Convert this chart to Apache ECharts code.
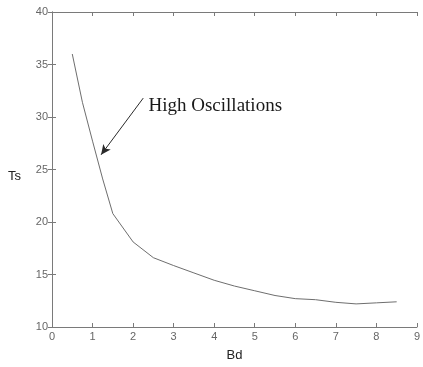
<!DOCTYPE html>
<html>
<head>
<meta charset="utf-8">
<script src="https://cdn.jsdelivr.net/npm/echarts@6/dist/echarts.min.js"></script>
<style>
  html, body { margin: 0; padding: 0; background: #fff; }
  #chart { width: 423px; height: 367px; }
</style>
</head>
<body>
<div id="chart"></div>
<script>
// Settling time versus damping parameter
const bd = [0.5, 0.75, 1.0, 1.25, 1.5, 2.0, 2.5, 3.0, 3.5, 4.0, 4.5, 5.0, 5.5, 6.0, 6.5, 7.0, 7.5, 8.0, 8.5];
const ts = [36.0, 31.4, 27.7, 24.1, 20.8, 18.1, 16.6, 15.85, 15.15, 14.45, 13.9, 13.45, 13.0, 12.7, 12.6, 12.35, 12.2, 12.3, 12.4];

// Annotation: arrow from label towards the steep part of the curve
const arrowFrom = [2.25, 31.8];
const arrowTo = [1.21, 26.4];
const noteAt = [2.38, 31.0];
const noteText = 'High Oscillations';

const axisGray = '#7a7a7a';
const labelGray = '#666666';

const chart = echarts.init(document.getElementById('chart'), null, { renderer: 'canvas' });

const tickCommon = {
  axisLine: { show: true, lineStyle: { color: axisGray, width: 1 } },
  axisTick: { show: true, inside: true, length: 4, lineStyle: { color: axisGray } },
  splitLine: { show: false }
};

chart.setOption({
  animation: false,
  backgroundColor: '#ffffff',
  grid: { left: 52, right: 2, top: 12, bottom: 30, containLabel: false },
  xAxis: [
    Object.assign({
      type: 'value', min: 0, max: 9, interval: 1, position: 'bottom',
      name: 'Bd', nameLocation: 'middle', nameGap: 22,
      nameTextStyle: { fontFamily: 'Liberation Sans', fontSize: 13, color: '#222' },
      axisLabel: { fontFamily: 'Liberation Sans', fontSize: 11, color: labelGray, margin: 4 }
    }, tickCommon),
    Object.assign({
      type: 'value', min: 0, max: 9, interval: 1, position: 'top',
      axisLabel: { show: false }
    }, tickCommon)
  ],
  yAxis: [
    Object.assign({
      type: 'value', min: 10, max: 40, interval: 5, position: 'left',
      name: 'Ts', nameLocation: 'middle', nameGap: 31, nameRotate: 0,
      nameTextStyle: { fontFamily: 'Liberation Sans', fontSize: 13, color: '#222', verticalAlign: 'top' },
      axisLabel: { fontFamily: 'Liberation Sans', fontSize: 11, color: labelGray, margin: 4 }
    }, tickCommon),
    Object.assign({
      type: 'value', min: 10, max: 40, interval: 5, position: 'right',
      axisLabel: { show: false }
    }, tickCommon)
  ],
  series: [
    {
      type: 'line',
      data: bd.map((x, i) => [x, ts[i]]),
      showSymbol: false,
      lineStyle: { color: '#6e6e6e', width: 1 },
      markLine: {
        silent: true,
        symbol: ['none', 'arrow'],
        symbolSize: [7, 10],
        lineStyle: { color: '#2a2a2a', width: 1, type: 'solid' },
        label: { show: false },
        data: [[{ coord: arrowFrom }, { coord: arrowTo }]]
      },
      markPoint: {
        silent: true,
        symbol: 'circle',
        symbolSize: 0,
        data: [{ coord: noteAt }],
        label: {
          show: true,
          position: 'right',
          distance: 0,
          formatter: noteText,
          fontFamily: 'Liberation Serif',
          fontSize: 19,
          color: '#1a1a1a'
        }
      }
    }
  ]
});
</script>
</body>
</html>
